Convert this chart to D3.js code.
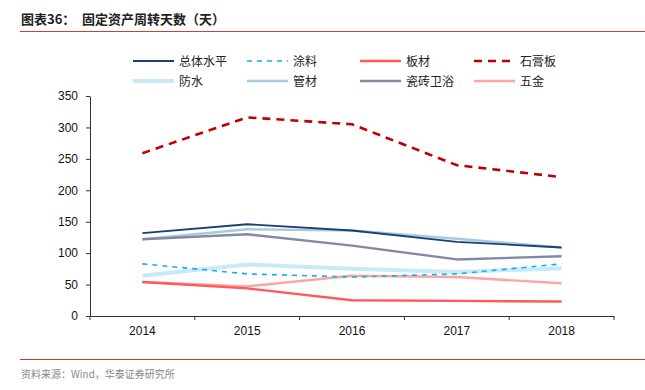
<!DOCTYPE html>
<html>
<head>
<meta charset="utf-8">
<script src="https://cdn.jsdelivr.net/npm/d3@7"></script>
<style>
  body { margin: 0; background: #fff; }
  text { font-family: "Liberation Sans", Arial, "Noto Sans CJK SC", sans-serif; }
  .cjk { font-family: "Noto Sans CJK SC", sans-serif; }
</style>
</head>
<body>
<div id="chart"></div>
<script>
// data
var years = ["2014", "2015", "2016", "2017", "2018"];
var totalLevel = [132, 146, 136, 118, 109];   // 总体水平
var coating = [83, 67, 62, 67, 83];           // 涂料
var board = [54, 44, 25, 24, 23];             // 板材
var gypsum = [259, 316, 305, 240, 221];       // 石膏板
var waterproof = [64, 82, 75, 70, 76];        // 防水
var pipe = [122, 138, 136, 123, 109];         // 管材
var ceramic = [122, 130, 112, 90, 95];        // 瓷砖卫浴
var hardware = [54, 47, 64, 62, 52];          // 五金
var yTicks = [0, 50, 100, 150, 200, 250, 300, 350];

var series = [
  { name: "总体水平", values: totalLevel, color: "#1c3f78", width: 1.8, dash: null },
  { name: "涂料", values: coating, color: "#12aef0", width: 1.6, dash: "5,5" },
  { name: "板材", values: board, color: "#ff5a5a", width: 2.4, dash: null },
  { name: "石膏板", values: gypsum, color: "#c00000", width: 2.6, dash: "8,6" },
  { name: "防水", values: waterproof, color: "#c8eaf8", width: 4, dash: null },
  { name: "管材", values: pipe, color: "#a7cadd", width: 2.4, dash: null },
  { name: "瓷砖卫浴", values: ceramic, color: "#8389a2", width: 2.4, dash: null },
  { name: "五金", values: hardware, color: "#ffa3a3", width: 2.4, dash: null }
];
// draw order so the pale lines sit under the dark ones
var drawOrder = ["防水", "管材", "瓷砖卫浴", "五金", "涂料", "板材", "总体水平", "石膏板"];

var W = 645, H = 390;
var svg = d3.select("#chart").append("svg")
  .attr("width", W).attr("height", H);

// title
svg.append("text").attr("class", "cjk")
  .attr("x", 21).attr("y", 24)
  .attr("font-size", 13).attr("font-weight", "bold").attr("fill", "#222")
  .text("图表36：");
svg.append("text").attr("class", "cjk")
  .attr("x", 82).attr("y", 24)
  .attr("font-size", 13).attr("font-weight", "bold").attr("fill", "#222")
  .text("固定资产周转天数（天）");
svg.append("line")
  .attr("x1", 20).attr("x2", 645).attr("y1", 31.5).attr("y2", 31.5)
  .attr("stroke", "#c8413a").attr("stroke-width", 1.2);

// footer
svg.append("line")
  .attr("x1", 20).attr("x2", 645).attr("y1", 359.5).attr("y2", 359.5)
  .attr("stroke", "#d8302a").attr("stroke-width", 1.2);
svg.append("text").attr("class", "cjk")
  .attr("x", 21).attr("y", 378)
  .attr("font-size", 10).attr("fill", "#888")
  .text("资料来源：Wind，华泰证券研究所");

var margin = { top: 96, left: 90 },
    width = 524, height = 220;

var x = d3.scaleBand().domain(years).range([0, width]);
var y = d3.scaleLinear().domain([0, 350]).range([height, 0]);

var g = svg.append("g").attr("transform", "translate(" + margin.left + "," + margin.top + ")");

// x axis
var xAxis = g.append("g")
  .attr("transform", "translate(0," + height + ")")
  .call(d3.axisBottom(x).tickSize(0).tickPadding(10));
xAxis.select(".domain").attr("stroke", "#333");
xAxis.selectAll("text").attr("font-size", 12).attr("fill", "#111")
  .style("font-family", "Liberation Sans, Arial, sans-serif");
// tick marks between bands
xAxis.selectAll(".sep")
  .data(d3.range(years.length + 1))
  .enter().append("line")
    .attr("class", "sep")
    .attr("x1", function(i) { return i * x.step(); })
    .attr("x2", function(i) { return i * x.step(); })
    .attr("y1", 0).attr("y2", 4)
    .attr("stroke", "#333");

// y axis
var yAxis = g.append("g")
  .call(d3.axisLeft(y).tickValues(yTicks).tickSize(4).tickSizeOuter(0).tickPadding(8));
yAxis.select(".domain").attr("stroke", "#333");
yAxis.selectAll("line").attr("stroke", "#333");
yAxis.selectAll("text").attr("font-size", 12).attr("fill", "#111")
  .style("font-family", "Liberation Sans, Arial, sans-serif");

// lines
drawOrder.forEach(function(name) {
  var s = series.filter(function(d) { return d.name === name; })[0];
  var line = d3.line()
    .x(function(d, i) { return x(years[i]) + x.bandwidth() / 2; })
    .y(function(d) { return y(d); });
  g.append("path")
    .datum(s.values)
    .attr("fill", "none")
    .attr("stroke", s.color)
    .attr("stroke-width", s.width)
    .attr("stroke-dasharray", s.dash)
    .attr("stroke-linejoin", "round")
    .attr("d", line);
});

// legend, 4 columns x 2 rows
var legX = [133, 247, 360, 474], legY = [61, 81];
var leg = svg.selectAll(".leg")
  .data(series)
  .enter().append("g")
    .attr("class", "leg")
    .attr("transform", function(d, i) {
      return "translate(" + legX[i % 4] + "," + legY[Math.floor(i / 4)] + ")";
    });
leg.append("line")
  .attr("x1", 0).attr("x2", 41).attr("y1", 0).attr("y2", 0)
  .attr("stroke", function(d) { return d.color; })
  .attr("stroke-width", function(d) { return d.name === "防水" ? 4 : Math.min(d.width, 2.6); })
  .attr("stroke-dasharray", function(d) { return d.dash; });
leg.append("text").attr("class", "cjk")
  .attr("x", 46).attr("y", 4.5)
  .attr("font-size", 12).attr("fill", "#222")
  .text(function(d) { return d.name; });
</script>
</body>
</html>
